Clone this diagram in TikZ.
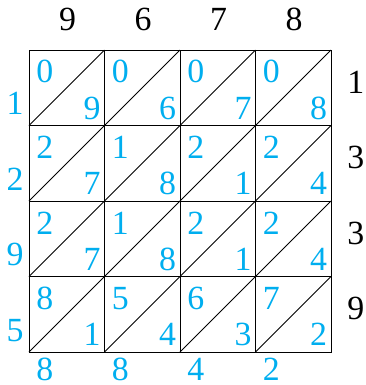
\documentclass[tikz,border=0pt]{standalone}
\usepackage{fontspec}
\setmainfont{Liberation Serif}
\usepackage{xcolor}
\usetikzlibrary{positioning}
\definecolor{latcyan}{RGB}{0,174,239}

\begin{document}
\begin{tikzpicture}[font=\fontsize{25.5}{27}\selectfont,line width=0.6pt,
    digit/.style={inner sep=0pt,anchor=center},
    cell/.style={digit,text=latcyan}]
    \useasboundingbox (-0.768,-0.874) rectangle (8.927,9.325);
    % factors across the top and down the right side
    \foreach \a [count=\c] in {9,6,7,8}
        \node[digit] (top\c) at (2*\c-0.98,8.8) {\a};
    \foreach \b [count=\r] in {1,3,3,9}
        \node[digit] (right\r) at (8.66,9.15-2*\r) {\b};
    % lattice cells with their partial products
    \foreach \a [count=\c] in {9,6,7,8} {
        \foreach \b [count=\r] in {1,3,3,9} {
            \pgfmathtruncatemacro{\tens}{int(\a*\b/10)}
            \pgfmathtruncatemacro{\units}{mod(\a*\b,10)}
            \draw (2*\c-2,8-2*\r) rectangle (2*\c,10-2*\r);
            \draw (2*\c-2,8-2*\r) -- (2*\c,10-2*\r);
            \node[cell] (t\r\c) at (2*\c-1.58,9.42-2*\r) {\tens};
            \node[cell] (u\r\c) at (2*\c-0.33,8.46-2*\r) {\units};
        }
    }
    % digits of the result
    \foreach \d [count=\r] in {1,2,9,5}
        \node[cell] (left\r) at (-0.37,8.58-2*\r) {\d};
    \foreach \d [count=\c] in {8,8,4,2}
        \node[cell] (bottom\c) at (2*\c-1.58,-0.45) {\d};
\end{tikzpicture}
\end{document}
